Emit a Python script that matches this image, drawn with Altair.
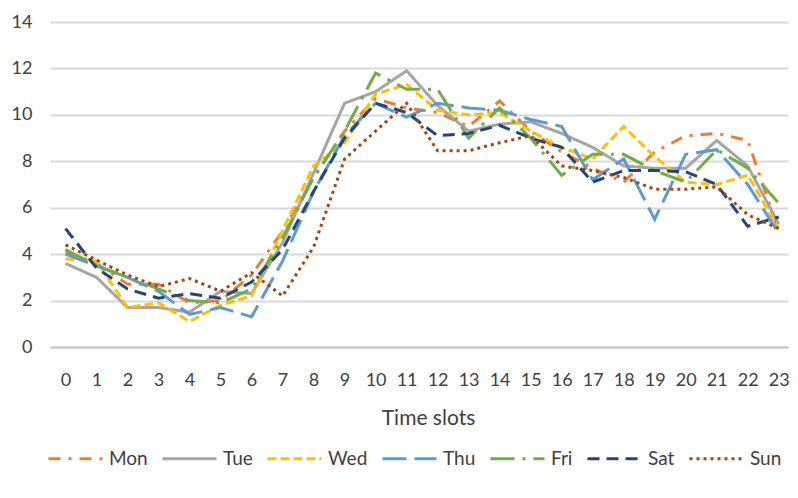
import altair as alt
import pandas as pd

hours = list(range(24))
days = ["Mon", "Tue", "Wed", "Thu", "Fri", "Sat", "Sun"]
colors = ["#ED7D31", "#A5A5A5", "#FFC000", "#5B9BD5", "#70AD47", "#264478", "#9E480E"]
dashes = [[12, 8, 3, 8], [1, 0], [9, 4], [24, 8], [24, 8, 3, 8], [12, 7], [3, 4]]

mon = [4.1, 3.6, 2.7, 2.7, 1.9, 2.0, 3.1, 5.0, 7.3, 9.3, 10.7, 10.3, 10.1, 9.5, 10.6, 9.3, 8.4, 7.7, 7.1, 8.4, 9.1, 9.2, 8.9, 5.0]
tue = [3.6, 3.0, 1.7, 1.7, 1.5, 2.4, 2.3, 4.5, 7.5, 10.5, 11.0, 11.9, 10.4, 9.3, 9.6, 9.7, 9.2, 8.6, 7.8, 7.7, 7.7, 8.9, 7.8, 5.3]
wed = [3.8, 3.7, 1.7, 1.9, 1.1, 1.8, 2.2, 5.0, 7.8, 8.8, 10.9, 11.3, 10.2, 10.0, 10.1, 9.3, 8.6, 8.1, 9.5, 8.2, 7.1, 7.0, 7.4, 5.1]
thu = [4.0, 3.5, 3.0, 2.4, 1.4, 1.7, 1.3, 3.7, 6.7, 9.1, 10.5, 9.9, 10.5, 10.3, 10.2, 9.8, 9.5, 7.2, 8.1, 5.5, 8.3, 8.5, 7.0, 4.9]
fri = [4.2, 3.5, 3.0, 2.5, 2.0, 1.9, 2.5, 4.7, 7.3, 9.3, 11.8, 11.1, 11.1, 9.0, 10.3, 9.0, 7.4, 8.3, 8.3, 7.6, 7.1, 8.5, 7.7, 6.2]
sat = [5.1, 3.4, 2.5, 2.1, 2.3, 2.1, 2.8, 4.2, 6.7, 9.0, 10.5, 10.1, 9.1, 9.2, 9.55, 9.0, 8.6, 7.1, 7.6, 7.6, 7.55, 7.0, 5.2, 5.6]
sun = [4.4, 3.75, 3.1, 2.6, 2.95, 2.4, 3.2, 2.2, 4.3, 8.1, 9.3, 10.5, 8.45, 8.45, 8.8, 9.1, 7.8, 7.6, 7.3, 6.8, 6.8, 6.9, 5.7, 5.1]

y_ticks = [0, 2, 4, 6, 8, 10, 12, 14]

series = [mon, tue, wed, thu, fri, sat, sun]
rows = []
for d, vals in zip(days, series):
    for h, v in zip(hours, vals):
        rows.append({"hour": h, "value": v, "day": d})
df = pd.DataFrame(rows)

FONT = "Lato"
TXT = "#404040"

legend = alt.Legend(
    title=None, orient="none", direction="horizontal", columns=7,
    legendX=-3, legendY=408, padding=0,
    symbolType="stroke", symbolSize=2916, symbolStrokeWidth=3,
    labelFont=FONT, labelFontSize=19, labelColor=TXT,
    labelOffset=5, columnPadding=8,
)

chart = alt.Chart(df).mark_line(strokeWidth=3, clip=False).encode(
    x=alt.X("hour:Q",
            scale=alt.Scale(domain=[-0.5, 23.3], nice=False, zero=False),
            axis=alt.Axis(values=hours, format="d", title="Time slots", grid=False,
                          ticks=False, domain=True, domainColor="#c8c8c8", domainWidth=2,
                          labelFont=FONT, labelFontSize=18, labelColor=TXT,
                          labelBaseline="alphabetic", labelPadding=38,
                          titleFont=FONT, titleFontSize=21, titleFontWeight="normal",
                          titleColor=TXT, titleBaseline="alphabetic", titleY=77,
                          titleX=378, titleAlign="center")),
    y=alt.Y("value:Q",
            scale=alt.Scale(domain=[0, 14], nice=False),
            axis=alt.Axis(values=y_ticks, title=None, domain=False, ticks=False,
                          gridColor="#d9d9d9", gridWidth=2,
                          labelFont=FONT, labelFontSize=18, labelColor=TXT,
                          labelPadding=18)),
    color=alt.Color("day:N", scale=alt.Scale(domain=days, range=colors), legend=legend),
    strokeDash=alt.StrokeDash("day:N", scale=alt.Scale(domain=days, range=dashes), legend=legend),
).properties(
    width=738, height=325,
    autosize=alt.AutoSizeParams(type="none"),
    padding={"left": 42, "top": 14, "right": 2, "bottom": 141},
).configure_view(stroke=None)

chart.save("out.html", embed_options={"renderer": "svg", "actions": False})
